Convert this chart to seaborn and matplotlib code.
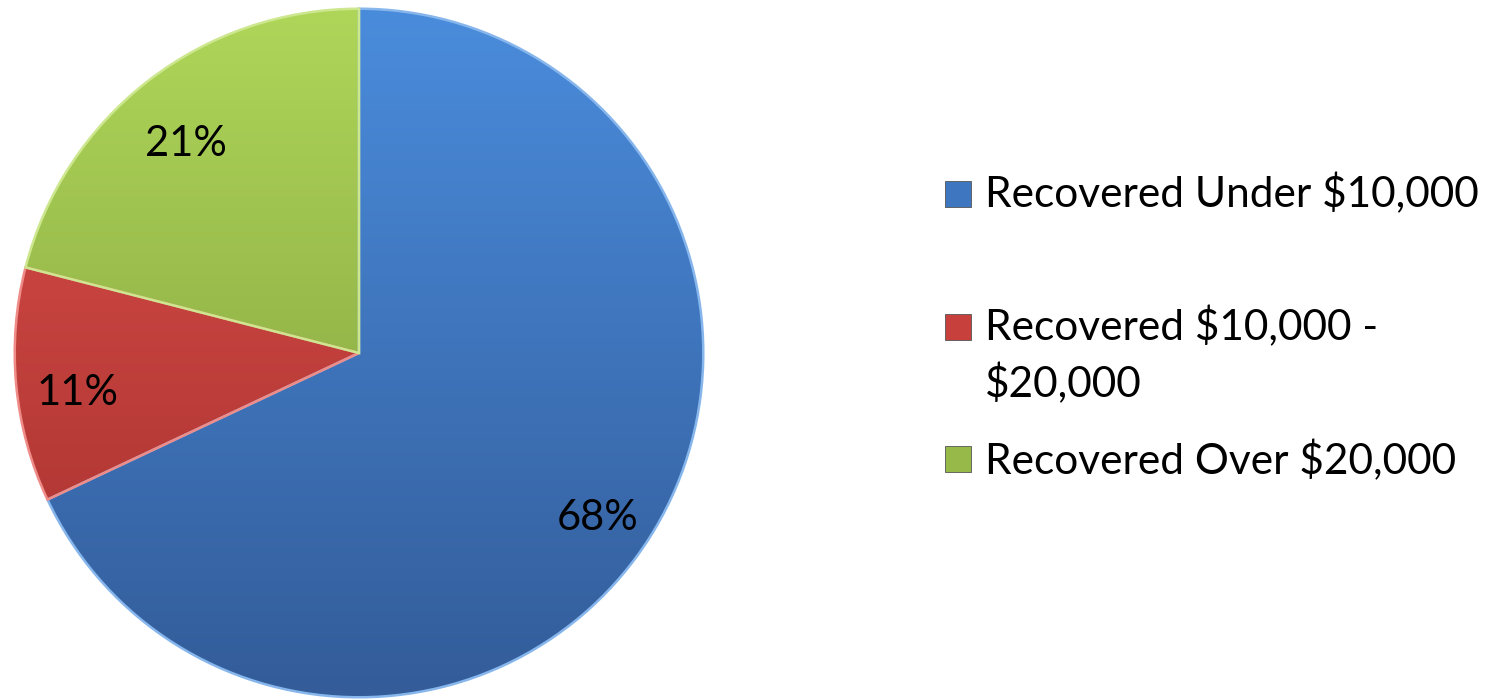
import numpy as np
import matplotlib.pyplot as plt
import seaborn as sns
from matplotlib.colors import LinearSegmentedColormap
from matplotlib.patches import Rectangle

# data
categories = ["Recovered Under $10,000", "Recovered $10,000 -\n$20,000", "Recovered Over $20,000"]
shares = [68, 11, 21]

# colours (top / bottom of the gradient, light bevel edge)
top_colors = ["#4A8CDC", "#DE504C", "#AFD659"]
bottom_colors = ["#335C99", "#A32F2C", "#7C983A"]
edge_colors = ["#86B6EC", "#F08C88", "#CDE78F"]
legend_colors = ["#3E76C0", "#C8403C", "#96B94A"]

sns.set_theme(style="white")
plt.rcParams["font.family"] = ["Lato", "DejaVu Sans"]

W, H = 1506, 700
fig = plt.figure(figsize=(W / 100, H / 100), dpi=100)
ax = fig.add_axes([13 / W, 1 / H, 692 / W, 692 / H])

wedges, _, autotexts = ax.pie(
    shares, startangle=90, counterclock=False, radius=1,
    autopct=lambda p: f"{p:.0f}%", pctdistance=0.82,
    textprops=dict(fontsize=30, color="black"),
    wedgeprops=dict(linewidth=0),
)
# Excel sets the labels a little lower than matplotlib does
for t in autotexts:
    x, y = t.get_position()
    t.set_position((x, y - 0.04))

# vertical gradient fill clipped to each wedge
grad = np.linspace(0, 1, 256).reshape(-1, 1)
for w, c0, c1, ec in zip(wedges, top_colors, bottom_colors, edge_colors):
    cmap = LinearSegmentedColormap.from_list("g", [c0, c1])
    im = ax.imshow(grad, cmap=cmap, extent=(-1, 1, -1, 1), origin="upper",
                   aspect="auto", zorder=0.5)
    im.set_clip_path(w)
    w.set_facecolor("none")
    w.set_edgecolor(ec)
    w.set_linewidth(1.8)

ax.set_xlim(-1.005, 1.005)
ax.set_ylim(-1.005, 1.005)
ax.axis("off")

# legend drawn by hand (Excel style uneven spacing)
marker_y = [194, 327, 459]
text_top = [182, 315, 449]
for cat, col, my, ty in zip(categories, legend_colors, marker_y, text_top):
    size = 26
    fig.patches.append(Rectangle((945 / W, 1 - (my + size / 2) / H), size / W, size / H,
                                 transform=fig.transFigure, facecolor=col,
                                 edgecolor="#555555", linewidth=0.6))
    fig.text(985 / W, 1 - (ty - 9) / H, cat, fontsize=30.5, va="top", ha="left",
             linespacing=1.45, color="black")

fig.savefig("out.png", dpi=100)
